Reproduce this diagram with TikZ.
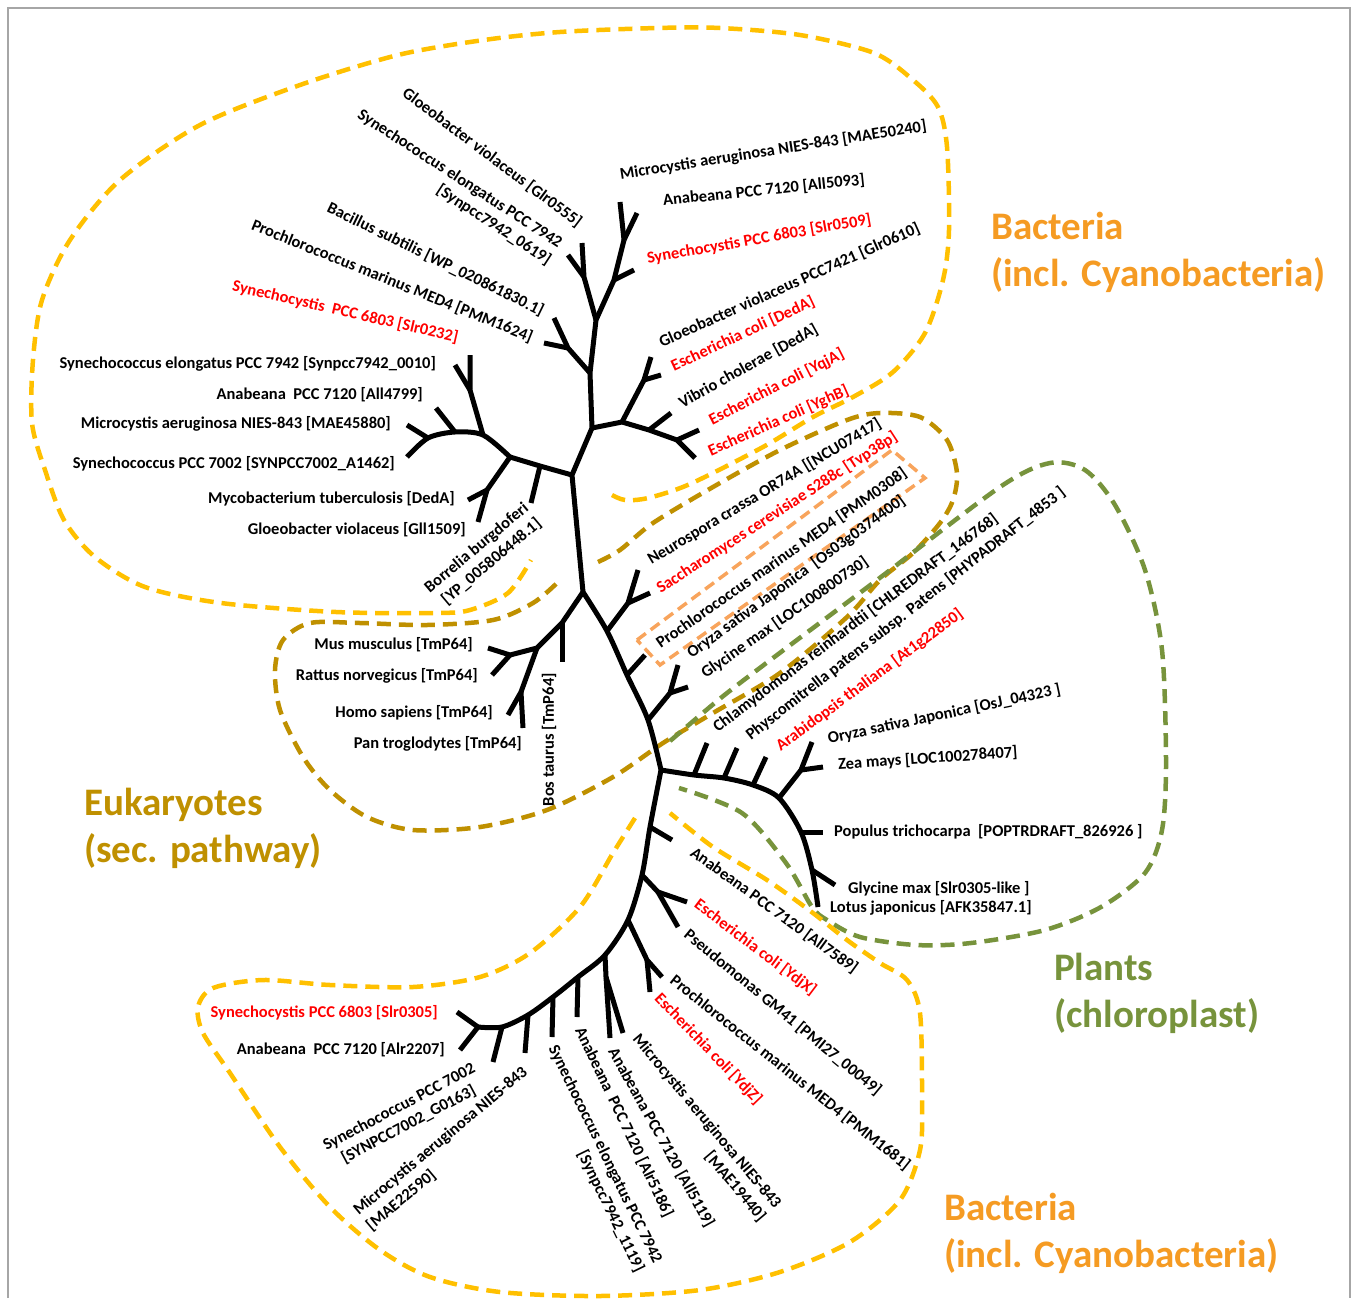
\documentclass[tikz,border=0pt]{standalone}
\usepackage{fontspec}
\setmainfont{Carlito}
\usepackage{xcolor}

\definecolor{bactyellow}{HTML}{FFC000}
\definecolor{eukgold}{HTML}{BF9000}
\definecolor{boxorange}{HTML}{F8A45C}
\definecolor{plantgreen}{HTML}{77933C}
\definecolor{bacttext}{HTML}{F59B23}
\definecolor{hitred}{HTML}{FF0000}

\tikzset{
  branch/.style={line width=5pt, line join=round},
  leaf/.style={font=\bfseries\fontsize{16.5}{20}\selectfont, inner sep=0pt},
  hit/.style={leaf, text=hitred},
  clade/.style={line width=4.5pt, dash pattern=on 14pt off 8pt},
  group/.style={font=\bfseries\fontsize{39}{47}\selectfont, align=left, anchor=north west, inner sep=0pt},
}

\begin{document}
\begin{tikzpicture}[x=1pt,y=-1pt]
\useasboundingbox (0,0) rectangle (1356,1298);
\draw[gray!70, line width=1.5pt] (8,1298) -- (8,8) -- (1350,8) -- (1350,1298);

% Dashed outlines of the groups
\draw[clade, bactyellow] plot[smooth] coordinates {(612,495) (625,500) (648,498) (690,484) (763,447) (813,417) (853,397) (893,372) (925,333) (943,280) (949,230) (947,147) (938,107) (913,80) (874,53) (800,35) (720,28) (657,28) (560,32) (484,40) (398,55) (300,85) (200,125) (120,180) (70,240) (42,300) (33,360) (32,423) (45,470) (64,520) (95,557) (145,587) (221,603) (336,612) (436,613) (470,610) (508,593) (531,560)};
\draw[clade, eukgold] plot[smooth] coordinates {(598,562) (620,550) (653,523) (713,487) (780,450) (847,420) (880,413) (920,417) (947,440) (957,473) (953,500) (940,523) (913,553) (880,580) (847,617) (780,673) (713,713) (663,743) (613,777) (547,810) (480,827) (413,830) (367,817) (330,790) (303,757) (280,710) (275,670) (283,640) (310,623) (360,623) (427,625) (493,620) (533,603) (557,583)};
\draw[line width=3.5pt, dash pattern=on 11pt off 6pt, boxorange] (637,640) -- (892,450) -- (925,478) -- (660,665) -- cycle;
\draw[clade, plantgreen] plot[smooth] coordinates {(670,741) (722,697) (777,655) (877,580) (1000,487) (1050,463) (1085,470) (1115,505) (1145,570) (1162,650) (1166,763) (1162,830) (1145,873) (1101,907) (1045,930) (971,943) (916,945) (860,937) (827,920) (812,907) (786,863) (742,813) (679,788)};
\draw[clade, bactyellow] plot[smooth] coordinates {(635,818) (613,853) (580,907) (530,953) (480,977) (413,987) (330,985) (263,980) (213,988) (198,1007) (203,1033) (230,1073) (280,1147) (330,1207) (380,1250) (430,1277) (500,1292) (600,1296) (700,1290) (780,1272) (850,1242) (900,1200) (920,1150) (922,1097) (920,1013) (907,980) (880,963) (847,940) (813,913) (767,880) (713,847) (670,813)};

% Tree junctions
\coordinate (A) at (592,428);
\coordinate (B) at (590,373);
\coordinate (C) at (568,348);
\coordinate (D) at (596,320);
\coordinate (D1) at (584,277);
\coordinate (E1) at (614,280);
\coordinate (E) at (624,240);
\coordinate (F) at (622,422);
\coordinate (G) at (644,380);
\coordinate (H) at (649,430);
\coordinate (I) at (677,440);
\coordinate (J) at (572,475);
\coordinate (Bo) at (540,466);
\coordinate (K) at (510,457);
\coordinate (M) at (483,435);
\coordinate (N) at (487,490);
\coordinate (O) at (470,390);
\coordinate (P) at (455,432);
\coordinate (Q) at (428,438);
\coordinate (L) at (583,592);
\coordinate (R) at (562,623);
\coordinate (S) at (537,648);
\coordinate (T) at (510,655);
\coordinate (U) at (521,692);
\coordinate (V) at (607,631);
\coordinate (W) at (628,603);
\coordinate (X) at (627,675);
\coordinate (Y) at (648,720);
\coordinate (Z) at (670,693);
\coordinate (AA) at (661,770);
\coordinate (pl1) at (694,775);
\coordinate (pl2) at (724,778);
\coordinate (pl3) at (753,785);
\coordinate (BB) at (779,798);
\coordinate (CC) at (801,770);
\coordinate (pp) at (801,832);
\coordinate (pg) at (812,870);
\coordinate (b1) at (650,827);
\coordinate (b2) at (642,875);
\coordinate (b2j) at (658,892);
\coordinate (b3) at (628,920);
\coordinate (b3j) at (647,960);
\coordinate (b4) at (605,955);
\coordinate (b4j) at (606,977);
\coordinate (ca1) at (578,977);
\coordinate (ca2) at (553,997);
\coordinate (ca3) at (528,1015);
\coordinate (ca4) at (502,1027);
\coordinate (ca5) at (478,1027);

% Tree trunk and arms
\draw[branch] (E) -- (E1) -- (D) -- (B) -- (A) -- (J) -- (L);
\draw[branch] plot[smooth] coordinates {(L) (V) (X) (Y) (AA)};
\draw[branch] (A) -- (F) -- (H) -- (I) -- (695,458);
\draw[branch] (J) -- (Bo) -- (K);
\draw[branch] plot[smooth] coordinates {(K) (M) (P) (Q) (407,457)};
\draw[branch] plot[smooth] coordinates {(AA) (pl1) (pl2) (pl3) (BB) (pp) (pg) (818,907)};
\draw[branch] plot[smooth] coordinates {(AA) (b1) (b2) (b3) (b4) (ca1) (ca2) (ca3) (ca4) (ca5)};

% Tips
\draw[branch] (B) -- (C) -- (554,318);
\draw[branch] (C) -- (544,343);
\draw[branch] (D) -- (D1) -- (582,243);
\draw[branch] (D1) -- (568,255);
\draw[branch] (E1) -- (634,270);
\draw[branch] (E) -- (620,202);
\draw[branch] (E) -- (637,213);
\draw[branch] (F) -- (G) -- (651,357);
\draw[branch] (G) -- (661,375);
\draw[branch] (H) -- (671,413);
\draw[branch] (I) -- (699,430);
\draw[branch] (Bo) -- (531,503);
\draw[branch] (K) -- (N) -- (478,522);
\draw[branch] (N) -- (468,500);
\draw[branch] (M) -- (O) -- (470,355);
\draw[branch] (O) -- (455,365);
\draw[branch] (P) -- (436,408);
\draw[branch] (Q) -- (407,425);
\draw[branch] (L) -- (R) -- (S) -- (T) -- (488,648);
\draw[branch] (T) -- (492,675);
\draw[branch] (R) -- (562,662);
\draw[branch] (S) -- (U) -- (508,715);
\draw[branch] (U) -- (523,728);
\draw[branch] (V) -- (W) -- (638,570);
\draw[branch] (W) -- (650,593);
\draw[branch] (X) -- (645,655);
\draw[branch] (Y) -- (Z) -- (678,665);
\draw[branch] (Z) -- (688,687);
\draw[branch] (pl1) -- (707,743);
\draw[branch] (pl2) -- (737,748);
\draw[branch] (pl3) -- (766,757);
\draw[branch] (BB) -- (CC) -- (812,742);
\draw[branch] (CC) -- (823,767);
\draw[branch] (pp) -- (823,832);
\draw[branch] (pg) -- (835,885);
\draw[branch] (b1) -- (672,840);
\draw[branch] (b2) -- (b2j) -- (687,902);
\draw[branch] (b2j) -- (678,927);
\draw[branch] (b3) -- (b3j) -- (662,977);
\draw[branch] (b3j) -- (650,992);
\draw[branch] (b4) -- (b4j) -- (610,1038);
\draw[branch] (b4j) -- (623,1033);
\draw[branch] (ca1) -- (577,1017);
\draw[branch] (ca2) -- (552,1037);
\draw[branch] (ca3) -- (525,1053);
\draw[branch] (ca4) -- (493,1062);
\draw[branch] (ca5) -- (457,1012);
\draw[branch] (ca5) -- (460,1050);

% Labels, upper left
\node[leaf, rotate=-37, anchor=east] (gv0555) at (580,224) {Gloeobacter violaceus [Glr0555]};
\node[leaf, rotate=-33, anchor=east, align=right] (se0619) at (555,253) {Synechococcus elongatus PCC 7942\\{}[Synpcc7942\_0619]};
\node[leaf, rotate=-26, anchor=east] (bs) at (543,312) {Bacillus subtilis [WP\_020861830.1]};
\node[leaf, rotate=-22, anchor=east] (pm1624) at (532,338) {Prochlorococcus marinus MED4 [PMM1624]};
\node[hit, rotate=-13, anchor=east] (sy0232) at (458,338) {Synechocystis~ PCC 6803 [Slr0232]};
\node[leaf, anchor=east] (se0010) at (436,364) {Synechococcus elongatus PCC 7942 [Synpcc7942\_0010]};
\node[leaf, anchor=east] (an4799) at (423,395) {Anabeana~ PCC 7120 [All4799]};
\node[leaf, anchor=east] (ma45880) at (391,424) {Microcystis aeruginosa NIES-843 [MAE45880]};
\node[leaf, anchor=east] (sy1462) at (395,464) {Synechococcus PCC 7002 [SYNPCC7002\_A1462]};
\node[leaf, anchor=east] (mt) at (455,499) {Mycobacterium tuberculosis [DedA]};
\node[leaf, anchor=east] (gv1509) at (466,530) {Gloeobacter violaceus [Gll1509]};
\node[leaf, rotate=40, anchor=east, align=right] (bb) at (533,514) {Borrelia burgdoferi\\{}[YP\_005806448.1]};

% Labels, eukaryotes
\node[leaf, anchor=east] (mm) at (473,645) {Mus musculus [TmP64]};
\node[leaf, anchor=east] (rn) at (478,676) {Rattus norvegicus [TmP64]};
\node[leaf, anchor=east] (hs) at (493,713) {Homo sapiens [TmP64]};
\node[leaf, anchor=east] (ptro) at (522,744) {Pan troglodytes [TmP64]};
\node[leaf, rotate=90, anchor=east] (bt) at (549,673) {Bos taurus [TmP64]};

% Labels, upper right
\node[leaf, rotate=9, anchor=west] (ma50240) at (620,175) {Microcystis aeruginosa NIES-843 [MAE50240]};
\node[leaf, rotate=6, anchor=west] (an5093) at (663,201) {Anabeana PCC 7120 [All5093]};
\node[hit, rotate=10, anchor=west] (sy0509) at (647,259) {Synechocystis PCC 6803 [Slr0509]};
\node[leaf, rotate=24, anchor=west] (gv0610) at (660,343) {Gloeobacter violaceus PCC7421 [Glr0610]};
\node[hit, rotate=25, anchor=west] (ecdeda) at (672,367) {Escherichia coli [DedA]};
\node[leaf, rotate=29, anchor=west] (vc) at (680,404) {Vibrio cholerae [DedA]};
\node[hit, rotate=27, anchor=west] (ecyqja) at (710,421) {Escherichia coli [YqjA]};
\node[hit, rotate=24, anchor=west] (ecyghb) at (709,452) {Escherichia coli [YghB]};

% Labels, middle
\node[leaf, rotate=31, anchor=west] (nc) at (649,561) {Neurospora crassa OR74A [[NCU07417]};
\node[hit, rotate=33, anchor=west] (sc) at (658,590) {Saccharomyces cerevisiae S288c [Tvp38p]};
\node[leaf, rotate=35, anchor=west] (pm0308) at (658,645) {Prochlorococcus marinus MED4 [PMM0308]};
\node[leaf, rotate=36, anchor=west] (os0374) at (689,655) {Oryza sativa Japonica~ [Os03g0374400]};
\node[leaf, rotate=35, anchor=west] (gm0730) at (703,675) {Glycine max [LOC100800730]};
\node[leaf, rotate=37, anchor=west] (cr) at (715,729) {Chlamydomonas reinhardtii [CHLREDRAFT\_146768]};
\node[leaf, rotate=38, anchor=west] (ppat) at (748,737) {Physcomitrella patens subsp. Patens [PHYPADRAFT\_4853 ]};
\node[hit, rotate=36.5, anchor=west] (at) at (778,748) {Arabidopsis thaliana [At1g22850]};

% Labels, plants
\node[leaf, rotate=12, anchor=west] (osj) at (828,739) {Oryza sativa Japonica [OsJ\_04323 ]};
\node[leaf, rotate=4, anchor=west] (zm) at (838,765) {Zea mays [LOC100278407]};
\node[leaf, anchor=west] (ptri) at (834,832) {Populus trichocarpa~ [POPTRDRAFT\_826926 ]};
\node[leaf, anchor=west] (gm0305) at (848,889) {Glycine max [Slr0305-like ]};
\node[leaf, anchor=west] (lj) at (830,908) {Lotus japonicus [AFK35847.1]};

% Labels, lower clade
\node[leaf, rotate=-36, anchor=west] (an7589) at (692,851) {Anabeana PCC 7120 [All7589]};
\node[hit, rotate=-37, anchor=west] (ecydjx) at (696,903) {Escherichia coli [YdjX]};
\node[leaf, rotate=-39.5, anchor=west] (ps) at (686,933) {Pseudomonas GM41 [PMI27\_00049]};
\node[leaf, rotate=-38.5, anchor=west] (pm1681) at (672,979) {Prochlorococcus marinus MED4 [PMM1681]};
\node[hit, rotate=-46, anchor=west] (ecydjz) at (657,996) {Escherichia coli [YdjZ]};
\node[leaf, rotate=-50, align=right] (ma19440) at (699,1128) {Microcystis aeruginosa NIES-843\\{}[MAE19440]};
\node[leaf, rotate=-61, anchor=west] (an5119) at (612,1049) {Anabeana PCC 7120 [All5119]};
\node[leaf, rotate=-64.5, anchor=west] (an5186) at (579,1028) {Anabeana~ PCC 7120 [Alr5186]};
\node[leaf, rotate=-64, align=right] (se1119) at (596,1159) {Synechococcus elongatus PCC 7942\\{}[Synpcc7942\_1119]};
\node[leaf, rotate=28, align=center] (sy0163) at (404,1116) {Synechococcus PCC 7002\\{}[SYNPCC7002\_G0163]};
\node[leaf, rotate=40, align=left] (ma22590) at (447,1149) {Microcystis aeruginosa NIES-843\\{}[MAE22590]};
\node[hit, anchor=east] (sy0305) at (438,1013) {Synechocystis PCC 6803 [Slr0305]};
\node[leaf, anchor=east] (an2207) at (445,1050) {Anabeana~ PCC 7120 [Alr2207]};

% Group names
\node[group, text=bacttext] (bacttop) at (991,212) {Bacteria\\(incl. Cyanobacteria)};
\node[group, text=eukgold] (euk) at (84,788) {Eukaryotes\\(sec. pathway)};
\node[group, text=plantgreen] (plants) at (1054,953) {Plants\\(chloroplast)};
\node[group, text=bacttext] (bactbot) at (944,1193) {Bacteria\\(incl. Cyanobacteria)};
\end{tikzpicture}
\end{document}
